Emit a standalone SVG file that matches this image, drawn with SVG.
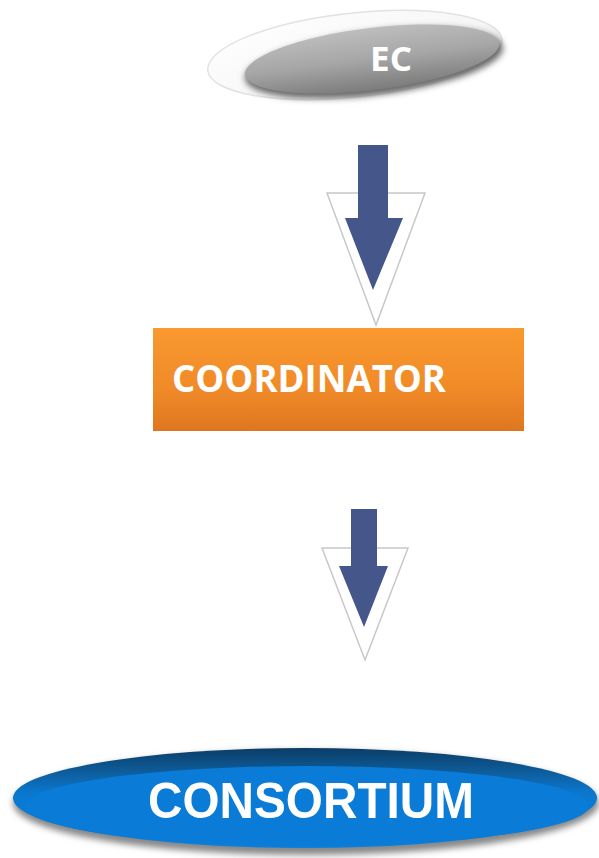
<svg xmlns="http://www.w3.org/2000/svg" width="599" height="858" viewBox="0 0 599 858">
<defs>
<linearGradient id="gEcOuter" x1="0" y1="0" x2="1" y2="1">
<stop offset="0" stop-color="#ffffff"/><stop offset="0.6" stop-color="#f6f6f6"/><stop offset="1" stop-color="#d8d8d8"/>
</linearGradient>
<linearGradient id="gEc" x1="0" y1="0" x2="0" y2="1">
<stop offset="0" stop-color="#bdbdbd"/><stop offset="0.5" stop-color="#a6a6a6"/><stop offset="1" stop-color="#7c7c7c"/>
</linearGradient>
<linearGradient id="gOrange" x1="0" y1="0" x2="0" y2="1">
<stop offset="0" stop-color="#f9992f"/><stop offset="0.6" stop-color="#f08a28"/><stop offset="1" stop-color="#de7620"/>
</linearGradient>
<linearGradient id="gBlue" x1="0" y1="0" x2="0" y2="1">
<stop offset="0" stop-color="#0b3d66"/><stop offset="0.25" stop-color="#0e5e9e"/><stop offset="0.45" stop-color="#0a78cf"/><stop offset="1" stop-color="#0880dc"/>
</linearGradient>
<filter id="soft" x="-10%" y="-30%" width="120%" height="160%"><feGaussianBlur stdDeviation="3"/></filter>
<style>
.arrow{fill:#44568a}
.tri{fill:#ffffff;stroke:#c8c8c8;stroke-width:1.5}
.lbl{fill:#ffffff;font-weight:bold}
</style>
</defs>
<g id="node-ec">
<ellipse cx="355" cy="55" rx="148" ry="42" fill="url(#gEcOuter)" stroke="#e2e2e2" stroke-width="1.5" transform="rotate(-6 355 55)"/>
<ellipse cx="374" cy="63" rx="130" ry="32" fill="#6a6a6a" transform="rotate(-7 374 63)" filter="url(#soft)"/>
<ellipse cx="372" cy="59" rx="128" ry="31" fill="url(#gEc)" transform="rotate(-7 372 59)"/>
<text x="391" y="71" class="lbl" font-family="Open Sans, sans-serif" font-size="34" text-anchor="middle" textLength="42" lengthAdjust="spacingAndGlyphs">EC</text>
</g>
<g id="connectors">
<polygon class="tri" points="327,193 425,193 376,325"/>
<polygon class="arrow" points="358,145 388,145 388,218 403,218 373,290 345,218 358,218"/>
<polygon class="tri" points="322,548 408,548 365,660"/>
<polygon class="arrow" points="351,509 377,509 377,566 388,566 364,627 339,566 351,566"/>
</g>
<g id="node-coordinator">
<rect x="153" y="328" width="371" height="103" fill="url(#gOrange)"/>
<text x="172" y="392" class="lbl" font-family="Open Sans, sans-serif" font-size="37" textLength="274" lengthAdjust="spacingAndGlyphs">COORDINATOR</text>
</g>
<g id="node-consortium">
<ellipse cx="306" cy="803" rx="293" ry="52" fill="#888" filter="url(#soft)"/>
<ellipse cx="305" cy="798" rx="292" ry="50" fill="url(#gBlue)"/>
<ellipse cx="307" cy="806" rx="282" ry="40" fill="#0a7bd6"/>
<text x="311" y="818" class="lbl" font-family="Liberation Sans, Arial, sans-serif" font-size="50" text-anchor="middle" textLength="326" lengthAdjust="spacingAndGlyphs">CONSORTIUM</text>
</g>
</svg>
